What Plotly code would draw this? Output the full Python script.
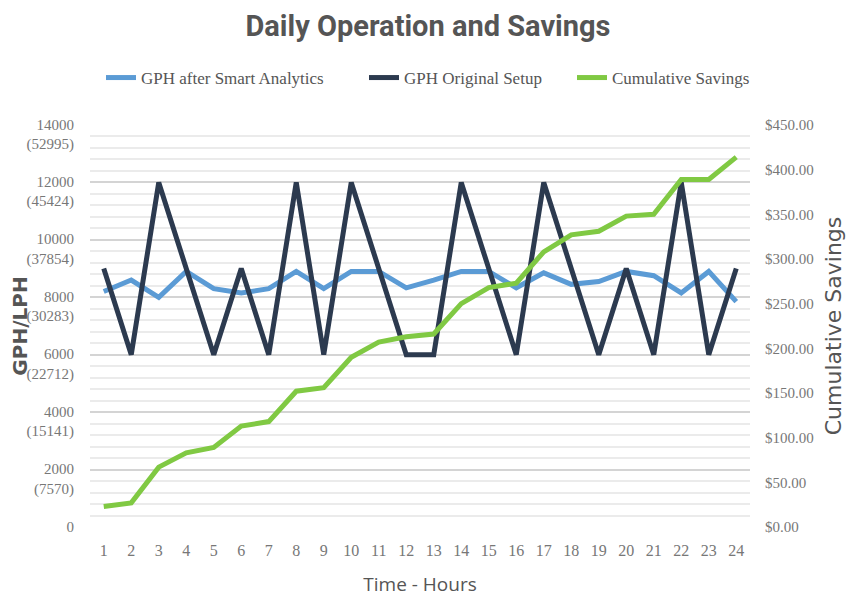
import plotly.graph_objects as go

hours = list(range(1, 25))
gph_after = [8200, 8600, 8000, 8900, 8300, 8150, 8300, 8900, 8300, 8900, 8900, 8330,
             8600, 8900, 8900, 8330, 8850, 8450, 8550, 8900, 8750, 8150, 8900, 7850]
gph_original = [9000, 6000, 12000, 9000, 6000, 9000, 6000, 12000, 6000, 12000, 9000, 6000,
                6000, 12000, 9000, 6000, 12000, 9000, 6000, 9000, 6000, 12000, 6000, 9000]
savings = [23, 27, 67, 83, 89, 113, 118, 152, 156, 190, 207, 213,
           216, 250, 268, 273, 308, 327, 331, 348, 350, 389, 389, 414]

left_tickvals = [0, 2000, 4000, 6000, 8000, 10000, 12000, 14000]
left_ticktext = ["0<br> ", "2000<br>(7570)", "4000<br>(15141)", "6000<br>(22712)",
                 "8000<br>(30283)", "10000<br>(37854)", "12000<br>(45424)", "14000<br>(52995)"]
right_tickvals = [0, 50, 100, 150, 200, 250, 300, 350, 400, 450]
right_ticktext = ["$%.2f" % v for v in right_tickvals]

serif = "Liberation Serif"
sans = "Open Sans"
wide = "DejaVu Sans"
gray_text = "#777777"
dark_text = "#555555"

W, H = 854, 614
OFF = 8  # page body margin offset of the rendered figure

fig = go.Figure()
fig.add_trace(go.Scatter(x=hours, y=gph_after, mode="lines", name="GPH after Smart Analytics",
                         line=dict(color="#5B9BD5", width=5), legend="legend", showlegend=True))
fig.add_trace(go.Scatter(x=hours, y=gph_original, mode="lines", name="GPH Original Setup",
                         line=dict(color="#2C3A4F", width=5), legend="legend2", showlegend=True))
fig.add_trace(go.Scatter(x=hours, y=savings, mode="lines", name="Cumulative Savings",
                         line=dict(color="#80C943", width=5), yaxis="y2", legend="legend3",
                         showlegend=True))

leg_common = dict(orientation="h", xref="container", xanchor="left", yref="container",
                  yanchor="middle", y=1 - (78 - OFF) / H,
                  font=dict(family=serif, size=17, color=dark_text))

fig.update_layout(
    width=W, height=H,
    showlegend=True,
    paper_bgcolor="white", plot_bgcolor="white",
    margin=dict(l=90 - OFF, r=W - (750 - OFF), t=125 - OFF, b=H - (527 - OFF), autoexpand=False),
    title=dict(text="<b>Daily Operation and Savings</b>", x=(428 - OFF) / W, xref="container",
               xanchor="center", y=1 - (26 - OFF) / H, yref="container", yanchor="middle",
               font=dict(family="Roboto", size=29, color=dark_text)),
    legend=dict(x=(101 - OFF) / W, **leg_common),
    legend2=dict(x=(364 - OFF) / W, **leg_common),
    legend3=dict(x=(572 - OFF) / W, **leg_common),
    xaxis=dict(range=[0.5, 24.5], tickvals=hours, showgrid=False, zeroline=False, showline=False,
               automargin=False, ticklabelstandoff=12,
               tickfont=dict(family=serif, size=16, color=gray_text), ticks="",
               title=dict(text="Time - Hours", font=dict(family=sans, size=19, color=dark_text), standoff=19)),
    yaxis=dict(range=[0, 14000], tickvals=left_tickvals, ticktext=left_ticktext,
               showgrid=True, gridcolor="#D4D4D4", gridwidth=2, zeroline=False, showline=False,
               automargin=False, ticklabelstandoff=15,
               minor=dict(dtick=400, showgrid=True, gridcolor="#EBEBEB", gridwidth=2),
               tickfont=dict(family=serif, size=15, color=gray_text), ticks="",
               ticklabelshift=9,
               title=dict(text="<b>GPH/LPH</b>", font=dict(family=wide, size=20, color=dark_text), standoff=4)),
    yaxis2=dict(range=[0, 450], tickvals=right_tickvals, ticktext=right_ticktext, overlaying="y",
                side="right", showgrid=False, zeroline=False, showline=False, ticks="",
                automargin=False, ticklabelstandoff=14,
                tickfont=dict(family=serif, size=15, color=gray_text),
                title=dict(text="Cumulative Savings", font=dict(family=wide, size=22, color=dark_text), standoff=12)),
)

fig.write_html("out.html")
